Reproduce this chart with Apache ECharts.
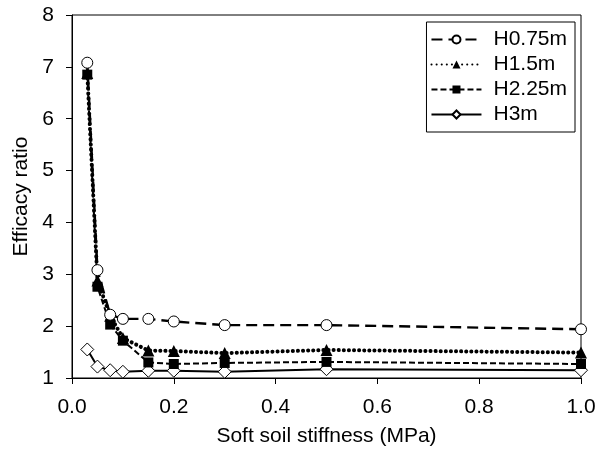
<!DOCTYPE html>
<html>
<head>
<meta charset="utf-8">
<script src="https://cdn.jsdelivr.net/npm/echarts@6/dist/echarts.min.js"></script>
<style>
  html, body { margin: 0; padding: 0; background: #fff; }
  #chart { width: 613px; height: 454px; }
</style>
</head>
<body>
<div id="chart"></div>
<script>
// soft soil stiffness (MPa)
const stiffness = [0.03, 0.05, 0.075, 0.1, 0.15, 0.2, 0.3, 0.5, 1.0]
// efficacy ratio per embankment height
const h075 = [7.08, 3.08, 2.22, 2.14, 2.14, 2.09, 2.02, 2.02, 1.94]
const h15 = [6.88, 2.88, 2.2, 1.77, 1.53, 1.52, 1.48, 1.54, 1.49]
const h225 = [6.85, 2.76, 2.03, 1.72, 1.3, 1.27, 1.29, 1.31, 1.27]
const h3 = [1.55, 1.22, 1.15, 1.12, 1.14, 1.14, 1.12, 1.17, 1.15]
const seriesNames = ['H0.75m', 'H1.5m', 'H2.25m', 'H3m']
const xTicks = [0, 0.2, 0.4, 0.6, 0.8, 1.0]

const font = 'Liberation Sans, Arial, sans-serif'

function pairs(ys) {
  return stiffness.map((x, i) => [x, ys[i]])
}

let chart = echarts.init(document.getElementById('chart'))
chart.setOption({
  animation: false,
  backgroundColor: '#fff',
  textStyle: { fontFamily: font },
  grid: {
    left: 72,
    right: 32,
    top: 15,
    bottom: 76,
    show: true,
    borderColor: '#000',
    borderWidth: 1
  },
  legend: {
    orient: 'vertical',
    right: 38,
    top: 22,
    itemWidth: 50,
    itemHeight: 10,
    itemGap: 4,
    padding: [7, 8, 7, 4],
    borderColor: '#000',
    borderWidth: 1,
    textStyle: { fontFamily: font, fontSize: 21, color: '#000', padding: [0, 0, 0, 7] },
    data: seriesNames
  },
  xAxis: {
    type: 'value',
    min: 0,
    max: 1,
    interval: 0.2,
    name: 'Soft soil stiffness (MPa)',
    nameLocation: 'middle',
    nameGap: 48,
    nameTextStyle: { fontFamily: font, fontSize: 21, color: '#000' },
    axisLine: { lineStyle: { color: '#000', width: 1 } },
    axisTick: { show: true, length: 6, inside: false, lineStyle: { color: '#000' } },
    axisLabel: {
      fontFamily: font,
      fontSize: 21,
      color: '#000',
      margin: 19,
      formatter: v => xTicks.indexOf(v) >= 0 ? v.toFixed(1) : ''
    },
    splitLine: { show: false }
  },
  yAxis: {
    type: 'value',
    min: 1,
    max: 8,
    interval: 1,
    name: 'Efficacy ratio',
    nameLocation: 'middle',
    nameGap: 37,
    nameTextStyle: { fontFamily: font, fontSize: 21, color: '#000' },
    axisLine: { show: true, lineStyle: { color: '#000', width: 1 } },
    axisTick: { show: true, length: 6, lineStyle: { color: '#000' } },
    axisLabel: { fontFamily: font, fontSize: 21, color: '#000', margin: 18 },
    splitLine: { show: false }
  },
  series: [
    {
      name: 'H0.75m',
      type: 'line',
      data: pairs(h075),
      z: 5,
      symbol: 'circle',
      symbolSize: 11,
      itemStyle: { color: '#fff', borderColor: '#000', borderWidth: 1 },
      lineStyle: { color: '#000', width: 2.4, type: [11, 6] }
    },
    {
      name: 'H1.5m',
      type: 'line',
      data: pairs(h15),
      z: 4,
      symbol: 'triangle',
      symbolSize: 12,
      itemStyle: { color: '#000', borderColor: '#000', borderWidth: 0 },
      lineStyle: { color: '#000', width: 4, type: [0.1, 5], cap: 'round' }
    },
    {
      name: 'H2.25m',
      type: 'line',
      data: pairs(h225),
      z: 3,
      symbol: 'rect',
      symbolSize: 10,
      itemStyle: { color: '#000', borderColor: '#000', borderWidth: 0 },
      lineStyle: { color: '#000', width: 2, type: [6, 3] }
    },
    {
      name: 'H3m',
      type: 'line',
      data: pairs(h3),
      z: 2,
      symbol: 'diamond',
      symbolSize: 13,
      itemStyle: { color: '#fff', borderColor: '#000', borderWidth: 1 },
      lineStyle: { color: '#000', width: 2, type: 'solid' }
    }
  ]
})
</script>
</body>
</html>
